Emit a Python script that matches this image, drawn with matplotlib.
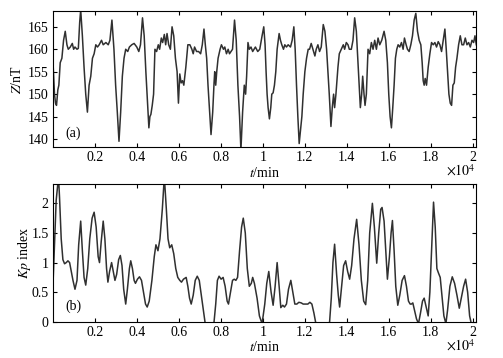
import numpy as np
import matplotlib
matplotlib.use('Agg')
import matplotlib.pyplot as plt
from matplotlib.ticker import FuncFormatter

plt.rcParams['font.family'] = ['Liberation Serif', 'DejaVu Serif']
plt.rcParams['mathtext.fontset'] = 'stix'

# (a) vertical component Z
t_z = [0, 80, 128, 176, 240, 288, 352, 432, 512, 592, 672, 736, 832, 928, 992, 1056, 1152, 1216,
       1280, 1328, 1408, 1488, 1568, 1648, 1728, 1808, 1888, 1968, 2048, 2128, 2208, 2320, 2400,
       2528, 2640, 2720, 2816, 2912, 2992, 3072, 3152, 3232, 3312, 3392, 3472, 3568, 3648, 3760,
       3872, 4000, 4096, 4176, 4272, 4352, 4432, 4512, 4576, 4624, 4672, 4736, 4800, 4864, 4944,
       5024, 5088, 5168, 5232, 5312, 5376, 5440, 5520, 5600, 5680, 5760, 5840, 5920, 5984, 6048,
       6112, 6176, 6240, 6336, 6432, 6528, 6624, 6688, 6752, 6848, 6944, 7040, 7120, 7200, 7264,
       7328, 7392, 7472, 7536, 7616, 7680, 7712, 7760, 7808, 7872, 7968, 8032, 8128, 8192, 8272,
       8352, 8416, 8560, 8656, 8736, 8816, 8896, 8960, 9040, 9120, 9184, 9232, 9296, 9360, 9440,
       9520, 9650, 9761, 9857, 9968, 10048, 10111, 10159, 10207, 10255, 10318, 10382, 10430, 10494,
       10557, 10621, 10685, 10780, 10844, 10907, 10987, 11051, 11130, 11210, 11321, 11401, 11481,
       11544, 11608, 11672, 11735, 11799, 11863, 11926, 12006, 12086, 12165, 12229, 12308, 12388,
       12484, 12547, 12627, 12706, 12786, 12882, 12961, 13041, 13104, 13168, 13248, 13311, 13375,
       13423, 13486, 13582, 13646, 13741, 13837, 13900, 13980, 14060, 14123, 14219, 14298, 14378,
       14458, 14537, 14601, 14649, 14712, 14760, 14824, 14872, 14935, 15015, 15094, 15174, 15254,
       15333, 15413, 15492, 15572, 15668, 15779, 15859, 15938, 16002, 16066, 16129, 16193, 16257,
       16320, 16384, 16448, 16527, 16607, 16686, 16750, 16830, 16893, 16973, 17053, 17132, 17212,
       17291, 17371, 17451, 17530, 17594, 17642, 17689, 17737, 17801, 17880, 17960, 18040, 18119,
       18199, 18278, 18358, 18437, 18517, 18597, 18676, 18740, 18804, 18867, 18931, 18995, 19058,
       19122, 19186, 19250, 19329, 19409, 19488, 19568, 19647, 19727, 19807, 19886, 19966, 20045,
       20109, 20173]
z_nt = [158, 150, 148, 147.5, 151, 152, 157, 158, 162, 164, 161, 160, 160.5, 161.3, 160, 160.5, 160, 160.2,
        166, 168.8, 163, 156, 150, 146, 152, 154, 158, 159, 161, 160.5, 161, 162, 161,
        161.5, 161, 162, 166.5, 160, 152, 146, 139.5, 146, 154, 158, 160, 159.5, 160.5, 161,
        161.3, 160.5, 159.5, 161, 167, 163, 155, 148, 142.5, 145, 145.5, 147.5, 150, 160, 159.5,
        161, 160, 162.5, 161.5, 163.3, 161, 163.5, 161, 160, 165, 163, 158, 155, 148, 154.5,
        152.5, 153, 152, 156, 161, 161, 160, 159, 160.5, 159.5, 159.5, 159, 161, 164.5, 161,
        158, 152, 146, 141, 146, 152.5, 155, 152, 155, 158, 160, 161, 160, 160.5, 159,
        160, 159, 160, 166.5, 162, 152, 145, 137.5, 146, 152, 150, 154, 161.5, 160, 160.5,
        159.5, 160.5, 159.5, 160, 163, 165, 161, 155, 150, 147, 144.5, 147, 150, 150.3,
        152, 155, 160, 163.5, 162, 161, 160, 161, 160.5, 161, 160.5, 162, 165,
        160, 152, 145, 139, 142, 145, 150, 155, 158, 160, 160, 161.3, 160,
        158.5, 160, 161, 159.5, 160.5, 165.5, 164, 160, 155, 150, 142.8, 147, 150,
        147, 150, 156, 159, 160, 161, 160, 161.5, 161, 160, 160, 162, 167,
        164, 157, 151, 147, 150, 154, 150, 147.5, 150, 160, 159, 161.5, 160,
        162, 160, 162.5, 161, 162, 164, 162, 157, 150, 145, 142.5, 147, 152,
        158, 160, 161, 160.5, 161.5, 160, 162.5, 161, 160, 159.5, 161, 163, 166.5,
        168, 164, 162, 161, 157, 153, 152, 153.5, 152, 156, 159, 161.5, 161,
        161.5, 160.5, 161.7, 161, 159.5, 162, 164.5, 160, 155, 150, 148, 147.5, 152,
        152.5, 156, 158, 161, 163, 161, 161, 162.5, 161, 161.5, 160.5, 162, 161.5,
        163, 161]

# (b) Kp index
t_kp = [0, 80, 160, 272, 320, 400, 480, 560, 640, 720, 800, 880, 960, 1056, 1152, 1232, 1328, 1408,
        1488, 1568, 1664, 1760, 1872, 1968, 2064, 2160, 2224, 2304, 2400, 2480, 2560, 2624, 2704,
        2800, 2880, 2960, 3040, 3136, 3216, 3296, 3376, 3472, 3552, 3648, 3712, 3792, 3872, 3936,
        4032, 4128, 4224, 4320, 4416, 4496, 4592, 4720, 4832, 4912, 5008, 5104, 5216, 5312, 5408,
        5488, 5568, 5664, 5760, 5856, 5952, 6048, 6128, 6224, 6352, 6432, 6512, 6592, 6688, 6784,
        6880, 6976, 7072, 7168, 7248, 7400, 7550, 7680, 7760, 7840, 7920, 8016, 8112, 8208, 8304,
        8368, 8464, 8560, 8640, 8720, 8800, 8896, 8992, 9072, 9168, 9264, 9360, 9456, 9520, 9602,
        9729, 9841, 9968, 10096, 10191, 10287, 10398, 10494, 10589, 10685, 10780, 10860, 10955,
        11035, 11130, 11226, 11337, 11433, 11528, 11624, 11719, 11831, 11926, 12022, 12149, 12245,
        12340, 12436, 12515, 12834, 13184, 13264, 13343, 13423, 13518, 13598, 13662, 13757, 13853,
        13948, 14044, 14139, 14235, 14346, 14473, 14585, 14696, 14808, 14903, 14999, 15094, 15222,
        15317, 15429, 15524, 15620, 15683, 15779, 15859, 15938, 16034, 16113, 16177, 16257, 16336,
        16432, 16527, 16639, 16750, 16845, 16941, 17021, 17084, 17148, 17228, 17323, 17419, 17514,
        17610, 17689, 17785, 17880, 17960, 18040, 18135, 18215, 18294, 18374, 18453, 18533, 18628,
        18724, 18804, 18915, 19027, 19138, 19250, 19361, 19456, 19568, 19663, 19759, 19854, 19934,
        20045, 20204]
kp = [0.55, 1.3, 2.05, 2.45, 2.1, 1.4, 1.05, 0.98, 1.0, 1.03, 1.0, 0.85, 0.7, 0.55, 0.7, 1.3, 1.7, 1.2,
      0.75, 0.62, 0.9, 1.4, 1.75, 1.85, 1.6, 1.1, 1.0, 1.35, 1.7, 1.4, 0.9, 0.67, 0.85,
      1.0, 0.85, 0.7, 0.8, 1.05, 1.12, 0.95, 0.55, 0.3, 0.55, 0.9, 1.03, 0.9, 0.7, 0.65,
      0.72, 0.76, 0.7, 0.5, 0.3, 0.25, 0.35, 0.7, 1.1, 1.3, 1.2, 1.4, 1.9, 2.45, 1.9,
      1.4, 1.25, 1.3, 1.15, 0.9, 0.75, 0.7, 0.67, 0.72, 0.75, 0.6, 0.4, 0.3, 0.45, 0.7,
      0.77, 0.7, 0.45, 0.2, 0.0, -0.25, -0.25, 0.0, 0.3, 0.7, 0.77, 0.72, 0.75, 0.6, 0.35,
      0.3, 0.5, 0.7, 0.72, 0.7, 0.75, 1.2, 1.6, 1.75, 1.5, 0.9, 0.6, 0.65, 0.75, 0.65,
      0.4, 0.1, -0.03, 0.3, 0.65, 0.85, 0.5, 0.28, 0.6, 1.0, 0.6, 0.24, 0.28,
      0.25, 0.3, 0.55, 0.7, 0.5, 0.3, 0.3, 0.33, 0.32, 0.3, 0.3, 0.3, 0.33,
      0.3, 0.15, 0.0, -0.3, 0.0, 0.4, 1.0, 1.31, 0.8, 0.45, 0.25, 0.6, 0.95,
      1.03, 0.85, 0.72, 0.95, 1.4, 1.73, 1.3, 0.7, 0.35, 0.29, 0.7, 1.5, 2.0,
      1.6, 0.99, 1.5, 1.9, 1.93, 1.7, 1.2, 0.72, 1.1, 1.5, 1.71, 1.2, 0.6,
      0.28, 0.45, 0.7, 0.78, 0.6, 0.35, 0.3, 0.3, 0.32, 0.2, 0.05, -0.03, 0.15,
      0.35, 0.4, 0.25, 0.1, 0.5, 1.2, 2.02, 1.6, 0.9, 0.82, 0.75, 0.45, 0.1,
      -0.03, 0.2, 0.6, 0.76, 0.65, 0.45, 0.23, 0.4, 0.6, 0.72, 0.5, 0.1, -0.03,
      -0.2, -0.3]

xticks = [2000, 4000, 6000, 8000, 10000, 12000, 14000, 16000, 18000, 20000]
lc = '#303030'

fig = plt.figure(figsize=(5.03, 3.58), dpi=100)
ax1 = fig.add_axes([0.105, 0.589, 0.841, 0.380])
ax2 = fig.add_axes([0.105, 0.101, 0.841, 0.384])

ax1.plot(t_z, z_nt, color=lc, lw=1.1)
ax1.set_ylim(138.2, 168.5)
ax1.set_yticks([140, 145, 150, 155, 160, 165])
ax1.set_ylabel('$Z$/nT', fontsize=10, labelpad=3)
ax1.text(0.03, 0.1, '(a)', transform=ax1.transAxes, fontsize=10, va='center')

ax2.plot(t_kp, kp, color=lc, lw=1.1)
ax2.set_ylim(0, 2.32)
ax2.set_yticks([0, 0.5, 1, 1.5, 2])
ax2.set_ylabel('$Kp$ index', fontsize=10, labelpad=-1)
ax2.text(0.03, 0.11, '(b)', transform=ax2.transAxes, fontsize=10, va='center')

fmt = FuncFormatter(lambda v, p: '%g' % (v / 1e4))
for ax in (ax1, ax2):
    ax.set_xlim(0, 20150)
    ax.set_xticks(xticks)
    ax.xaxis.set_major_formatter(fmt)
    ax.yaxis.set_major_formatter(FuncFormatter(lambda v, p: '%g' % v))
    ax.tick_params(direction='in', top=True, right=True, labelsize=10, length=3, width=0.8, pad=3)
    for s in ax.spines.values():
        s.set_linewidth(0.8)
    ax.set_xlabel('$t$/min', fontsize=10, labelpad=1)
    ax.text(1.0, -0.175, r'$\times10^4$', transform=ax.transAxes, fontsize=10,
            ha='right', va='center')

fig.savefig('out.png', dpi=100)
